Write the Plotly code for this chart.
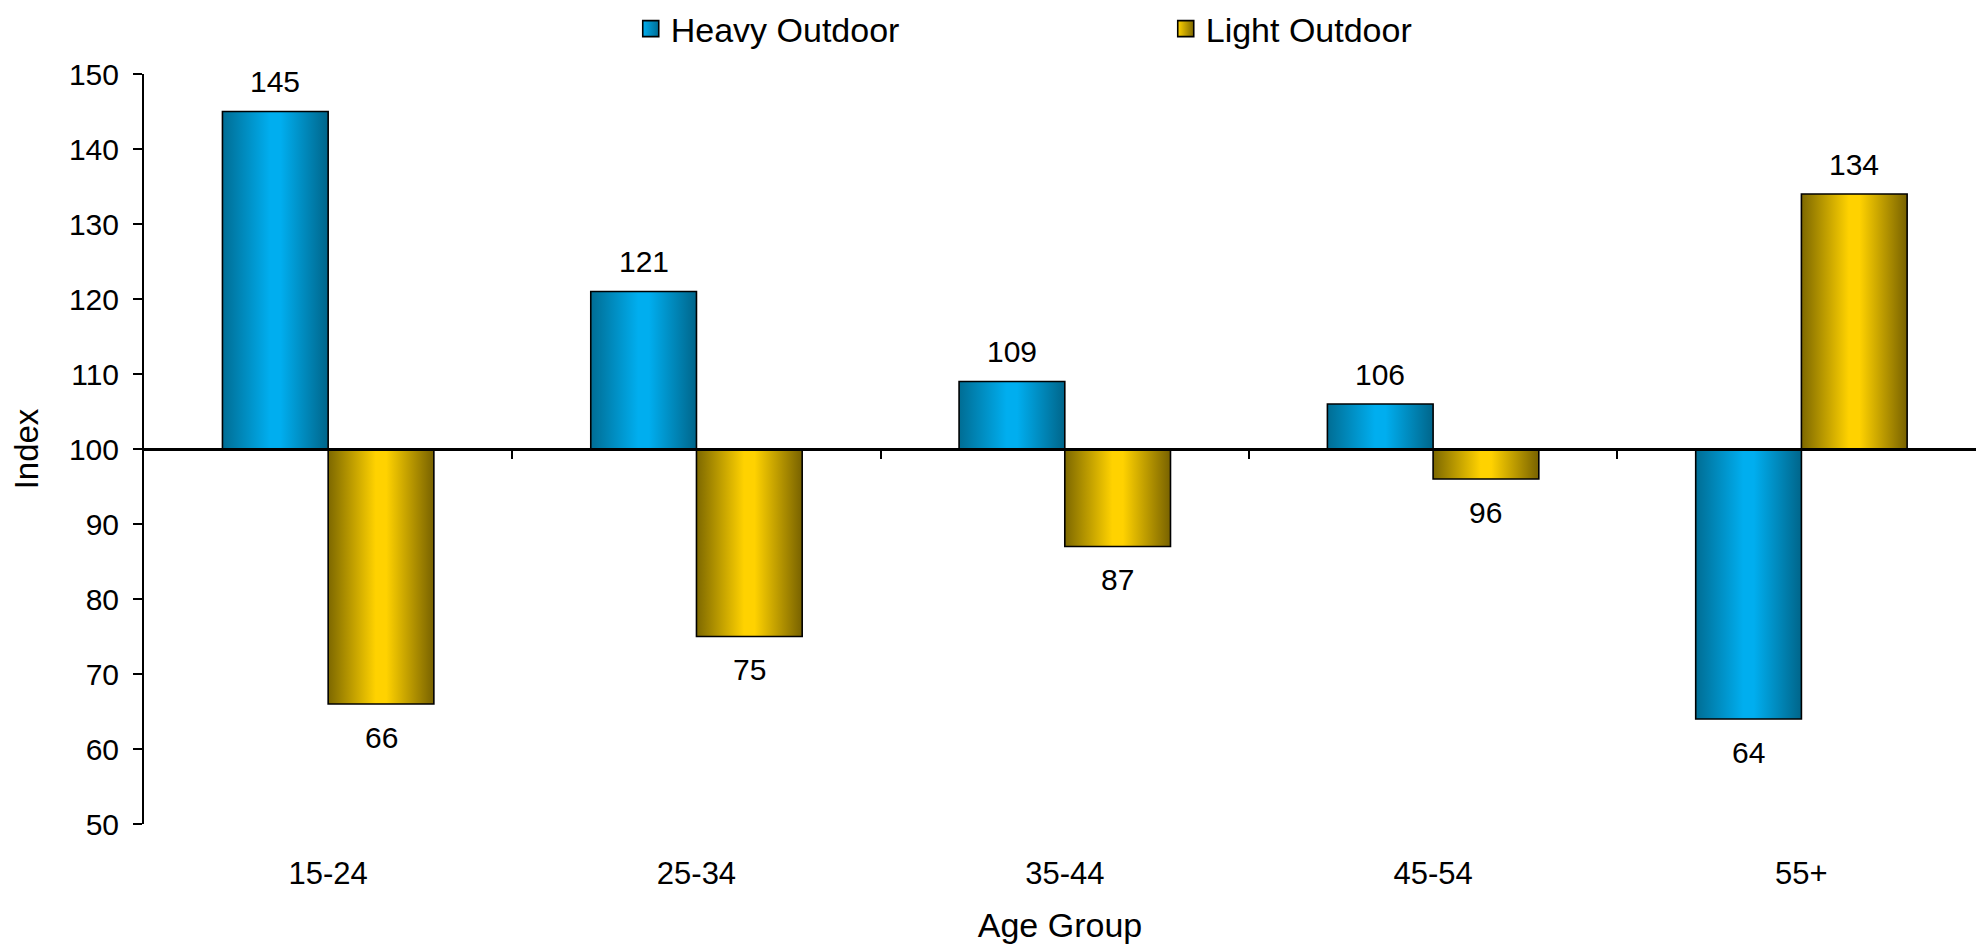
import plotly.graph_objects as go

# Index values by age group (100 = average)
age_groups = ["15-24", "25-34", "35-44", "45-54", "55+"]
heavy_outdoor = [145, 121, 109, 106, 64]
light_outdoor = [66, 75, 87, 96, 134]
y_ticks = [50, 60, 70, 80, 90, 100, 110, 120, 130, 140, 150]

BASE = 100
BAR_W = 0.287
Y_MIN, Y_MAX = 50, 150
X_RANGE = [-0.5, 4.474]
FONT = "Liberation Sans, Arial, sans-serif"

series = [
    ("Heavy Outdoor", heavy_outdoor,
     [[0, "#006d94"], [0.45, "#00aeef"], [0.55, "#00aeef"], [1, "#00658a"]], "x"),
    ("Light Outdoor", light_outdoor,
     [[0, "#7d6800"], [0.45, "#ffd200"], [0.55, "#ffd200"], [1, "#786200"]], "x2"),
]

fig = go.Figure()
for s, (name, vals, scale, xa) in enumerate(series):
    for i, v in enumerate(vals):
        x0 = i - BAR_W + s * BAR_W
        x1 = x0 + BAR_W
        fig.add_trace(go.Scatter(
            x=[x0, x1, x1, x0, x0], y=[BASE, BASE, v, v, BASE],
            mode="lines", fill="toself",
            fillgradient=dict(type="horizontal", colorscale=scale),
            line=dict(color="black", width=1.6),
            name=name, legendgroup=name, showlegend=False,
            xaxis=xa, hoverinfo="skip",
        ))
        fig.add_annotation(
            x=(x0 + x1) / 2, y=v, xref="x", yref="y", text=str(v),
            showarrow=False, yshift=30 if v >= BASE else -33,
            font=dict(family=FONT, size=30, color="black"),
        )
    # square legend key for the series
    fig.add_trace(go.Scatter(
        x=[None], y=[None], mode="markers", name=name, legendgroup=name,
        marker=dict(symbol="square", size=16, color=scale[1][1],
                    gradient=dict(type="horizontal", color=scale[0][1]),
                    line=dict(color="black", width=1.6)),
        xaxis=xa, showlegend=True, hoverinfo="skip",
    ))

fig.update_layout(
    width=1976, height=944,
    margin=dict(l=144, r=0, t=74, b=120, autoexpand=False),
    paper_bgcolor="white", plot_bgcolor="white",
    font=dict(family=FONT, color="black", size=30),
    legend=dict(
        orientation="h", xref="container", yref="container",
        x=0.3192, y=1.0, xanchor="left", yanchor="top",
        font=dict(family=FONT, size=34, color="black"),
        entrywidth=490, entrywidthmode="pixels",
    ),
    xaxis=dict(
        domain=[0, 1], range=X_RANGE, automargin=False,
        tickmode="array", tickvals=list(range(len(age_groups))), ticktext=age_groups,
        ticks="", showline=False, showgrid=False, zeroline=False,
        tickfont=dict(size=31), ticklabelstandoff=28,
        title=dict(text="Age Group", font=dict(size=34), standoff=32),
    ),
    xaxis2=dict(
        overlaying="x", anchor="free", automargin=False,
        position=(BASE - Y_MIN) / (Y_MAX - Y_MIN), range=X_RANGE,
        showline=True, linecolor="black", linewidth=2.5,
        ticks="outside", tickmode="array",
        tickvals=[i + 0.5 for i in range(len(age_groups) - 1)],
        ticklen=8, tickwidth=2, tickcolor="black",
        showticklabels=False, showgrid=False, zeroline=False,
    ),
    yaxis=dict(
        range=[Y_MIN, Y_MAX], tickmode="array", tickvals=y_ticks, automargin=False,
        showline=True, linecolor="black", linewidth=2,
        ticks="outside", ticklen=9, tickwidth=2, tickcolor="black",
        tickfont=dict(size=30), ticklabelstandoff=8,
        showgrid=False, zeroline=False,
        title=dict(text="Index", font=dict(size=33), standoff=20),
    ),
)

fig.write_html("out.html")
